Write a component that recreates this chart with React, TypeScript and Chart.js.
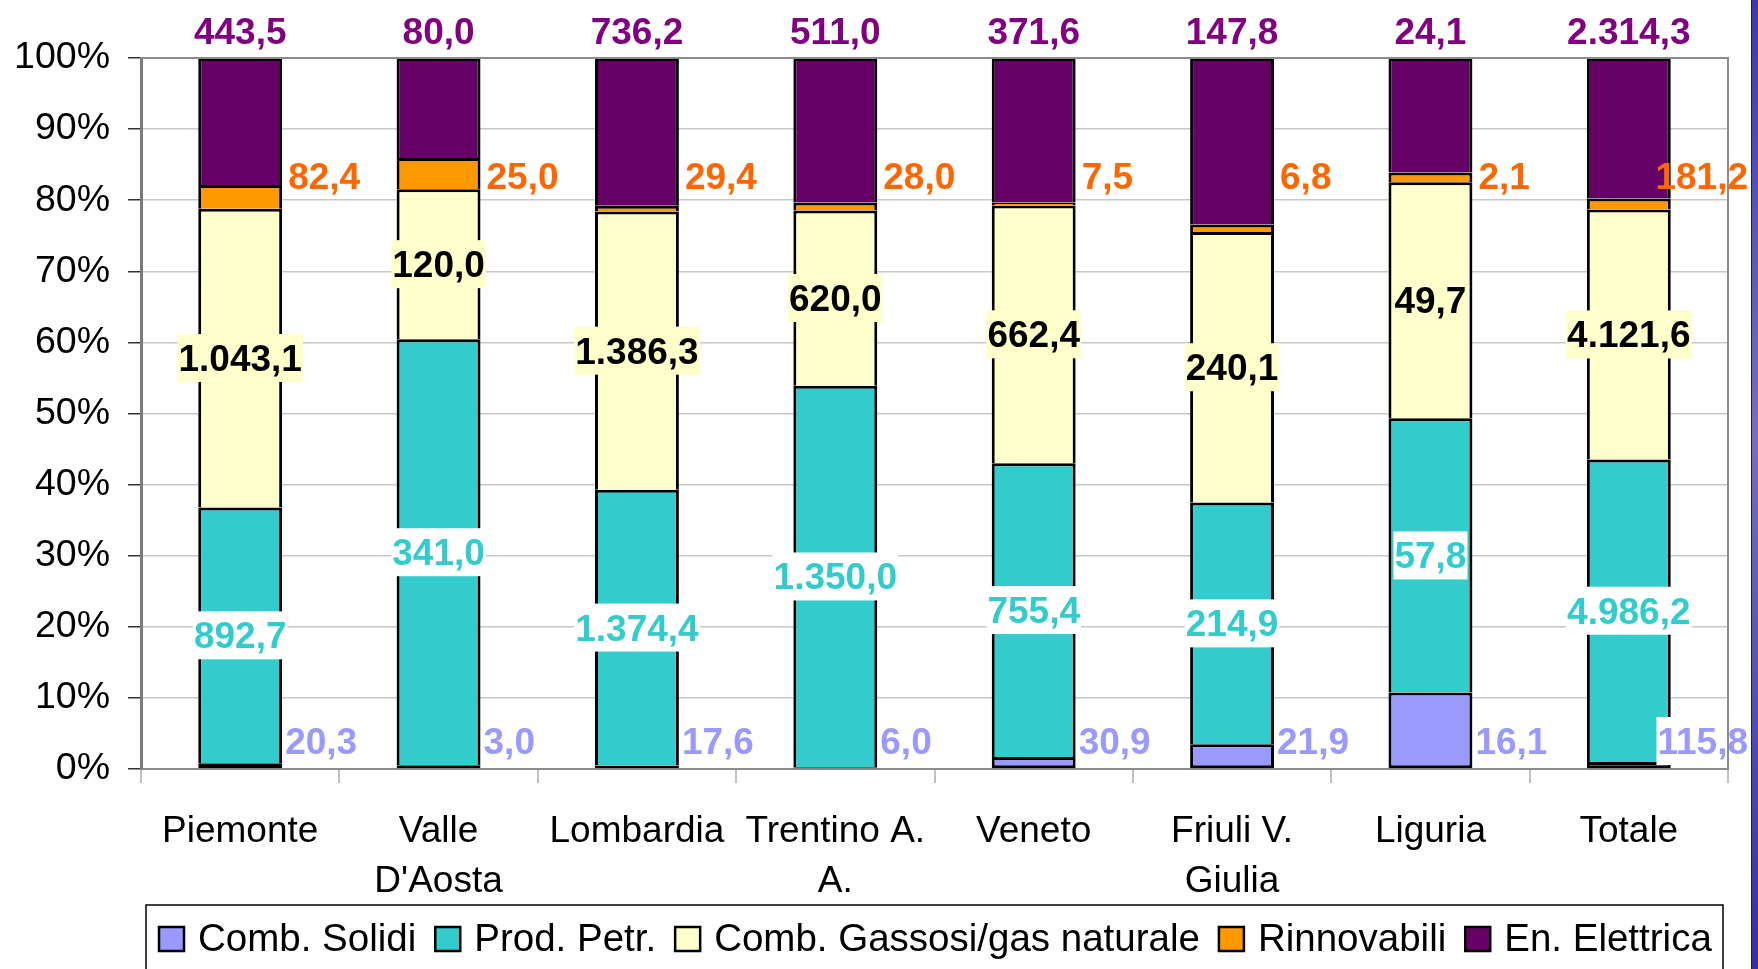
import React, { useEffect, useRef } from 'react';
import { Chart, registerables } from 'chart.js';

Chart.register(...registerables);

// ---------- DATA ----------
const CATEGORIES: (string | string[])[] = [
  'Piemonte',
  ['Valle', "D'Aosta"],
  'Lombardia',
  ['Trentino A.', 'A.'],
  'Veneto',
  ['Friuli V.', 'Giulia'],
  'Liguria',
  'Totale',
];

const SERIES_NAMES = [
  'Comb. Solidi',
  'Prod. Petr.',
  'Comb. Gassosi/gas naturale',
  'Rinnovabili',
  'En. Elettrica',
];

const COMB_SOLIDI = [20.3, 3.0, 17.6, 6.0, 30.9, 21.9, 16.1, 115.8];
const PROD_PETR = [892.7, 341.0, 1374.4, 1350.0, 755.4, 214.9, 57.8, 4986.2];
const COMB_GASSOSI = [1043.1, 120.0, 1386.3, 620.0, 662.4, 240.1, 49.7, 4121.6];
const RINNOVABILI = [82.4, 25.0, 29.4, 28.0, 7.5, 6.8, 2.1, 181.2];
const EN_ELETTRICA = [443.5, 80.0, 736.2, 511.0, 371.6, 147.8, 24.1, 2314.3];

const SERIES_VALUES = [COMB_SOLIDI, PROD_PETR, COMB_GASSOSI, RINNOVABILI, EN_ELETTRICA];

const Y_TICKS = [0, 10, 20, 30, 40, 50, 60, 70, 80, 90, 100];

// ---------- STYLES ----------
const FILL_COLORS = ['#9999FF', '#33CCCC', '#FFFFCC', '#FF9900', '#660066'];
const LABEL_COLORS = ['#9999FF', '#33CCCC', '#000000', '#FF6600', '#800080'];
const FONT = "'Liberation Sans', Arial, sans-serif";
const W = 1758;
const H = 969;

function fmt(v: number): string {
  const s = v.toFixed(1);
  const [ip, dp] = s.split('.');
  const grouped = ip.replace(/\B(?=(\d{3})+(?!\d))/g, '.');
  return grouped + ',' + dp;
}

const labelsPlugin = {
  id: 'valueLabels',
  afterDatasetsDraw(chart: any) {
    const ctx = chart.ctx as CanvasRenderingContext2D;
    const area = chart.chartArea;
    const yScale = chart.scales.y;
    const maxRight = 1748;
    ctx.save();
    ctx.font = `bold 37px ${FONT}`;
    ctx.textAlign = 'left';
    ctx.textBaseline = 'alphabetic';
    SERIES_VALUES.forEach((vals, d) => {
      const meta = chart.getDatasetMeta(d);
      meta.data.forEach((bar: any, i: number) => {
        const txt = fmt(vals[i]);
        const tw = ctx.measureText(txt).width;
        const right = bar.x + bar.width / 2;
        let x = 0;
        let base = 0;
        let bg: string | null = null;
        if (d === 0) {
          x = Math.min(right + 3, maxRight - tw);
          base = area.bottom - 15;
          bg = '#FFFFFF';
        } else if (d === 1) {
          x = bar.x - tw / 2;
          base = (bar.y + bar.base) / 2 + 13;
          bg = '#FFFFFF';
        } else if (d === 2) {
          x = bar.x - tw / 2;
          base = (bar.y + bar.base) / 2 + 13;
          bg = '#FFFFCC';
        } else if (d === 3) {
          x = Math.min(right + 6, maxRight - tw);
          base = yScale.getPixelForValue(81.6);
        } else {
          x = bar.x - tw / 2;
          base = area.top - 14;
        }
        if (bg) {
          ctx.fillStyle = bg;
          ctx.fillRect(x - 1, base - 37, tw + 2, 48);
        }
        ctx.fillStyle = LABEL_COLORS[d];
        ctx.fillText(txt, x, base);
      });
    });
    ctx.restore();
  },
  afterDraw(chart: any) {
    const ctx = chart.ctx as CanvasRenderingContext2D;
    const area = chart.chartArea;
    ctx.save();
    // top and right plot border
    ctx.strokeStyle = '#8C8C8C';
    ctx.lineWidth = 2;
    ctx.beginPath();
    ctx.moveTo(area.left, area.top);
    ctx.lineTo(area.right, area.top);
    ctx.lineTo(area.right, area.bottom);
    ctx.stroke();

    // legend
    const lx = 146;
    const ly = 905;
    const lw = 1723 - 146;
    ctx.fillStyle = '#FFFFFF';
    ctx.fillRect(lx, ly, lw, H - ly + 10);
    ctx.strokeStyle = '#000000';
    ctx.lineWidth = 1.5;
    ctx.strokeRect(lx, ly, lw, H - ly + 20);
    ctx.font = `38.5px ${FONT}`;
    ctx.textBaseline = 'alphabetic';
    ctx.textAlign = 'left';
    let x = 159;
    const baseline = 951;
    SERIES_NAMES.forEach((name, d) => {
      ctx.fillStyle = FILL_COLORS[d];
      ctx.fillRect(x, baseline - 24, 25, 24);
      ctx.strokeStyle = '#000000';
      ctx.lineWidth = 2.5;
      ctx.strokeRect(x, baseline - 24, 25, 24);
      ctx.fillStyle = '#000000';
      ctx.fillText(name, x + 39, baseline);
      x += 39 + ctx.measureText(name).width + 19;
    });
    ctx.restore();
  },
};

export default function App() {
  const ref = useRef<HTMLCanvasElement>(null);

  useEffect(() => {
    const totals = CATEGORIES.map((_, i) =>
      SERIES_VALUES.reduce((s, arr) => s + arr[i], 0)
    );
    const datasets = SERIES_VALUES.map((vals, d) => ({
      label: SERIES_NAMES[d],
      data: vals.map((v, i) => (v / totals[i]) * 100),
      backgroundColor: FILL_COLORS[d],
      borderColor: '#000000',
      borderWidth: 3,
      borderSkipped: d === 0 ? false : ('start' as const),
      categoryPercentage: 1,
      barPercentage: 0.423,
    }));

    const chart = new Chart(ref.current!, {
      type: 'bar',
      data: { labels: CATEGORIES as any, datasets: datasets as any },
      options: {
        responsive: false,
        animation: false,
        devicePixelRatio: 1,
        layout: { padding: { top: 58, right: 30, left: 0, bottom: 0 } },
        plugins: {
          legend: { display: false },
          tooltip: { enabled: false },
          title: { display: false },
        },
        scales: {
          x: {
            stacked: true,
            grid: {
              offset: true,
              drawOnChartArea: false,
              drawTicks: true,
              tickLength: 14,
              color: '#C0C0C0',
              lineWidth: 2,
            },
            border: { display: true, color: '#8C8C8C', width: 2 },
            ticks: {
              autoSkip: false,
              maxRotation: 0,
              minRotation: 0,
              color: '#000000',
              padding: 23,
              font: { family: FONT, size: 37, lineHeight: 1.37 },
            },
            afterFit(scale: any) {
              scale.height = 200;
            },
          },
          y: {
            stacked: true,
            min: 0,
            max: 100,
            afterBuildTicks(scale: any) {
              scale.ticks = Y_TICKS.map((v) => ({ value: v }));
            },
            ticks: {
              color: '#000000',
              padding: 18,
              font: { family: FONT, size: 37.5 },
              callback: (v: any) => `${v}%`,
            },
            grid: {
              color: '#C8C8C8',
              lineWidth: 1.5,
              tickColor: '#333333',
              tickLength: 13,
              drawTicks: true,
            },
            border: { display: true, color: '#7A7A7A', width: 3 },
            afterFit(scale: any) {
              scale.width = 141;
            },
          },
        },
      },
      plugins: [labelsPlugin],
    });
    return () => chart.destroy();
  }, []);

  return (
    <div
      style={{
        position: 'fixed',
        left: 0,
        top: 0,
        width: W,
        height: H,
        background: '#FFFFFF',
        overflow: 'hidden',
      }}
    >
      <canvas
        ref={ref}
        width={W}
        height={H}
        style={{ position: 'absolute', left: 0, top: 0, width: W, height: H }}
      />
      <div
        style={{
          position: 'absolute',
          left: 1751,
          top: 0,
          width: 7,
          height: H,
          borderLeft: '1px solid #1C1C50',
          boxSizing: 'border-box',
          background: 'linear-gradient(to bottom, #3A3AB0, #7070C8 45%, #3030A8)',
        }}
      />
    </div>
  );
}
